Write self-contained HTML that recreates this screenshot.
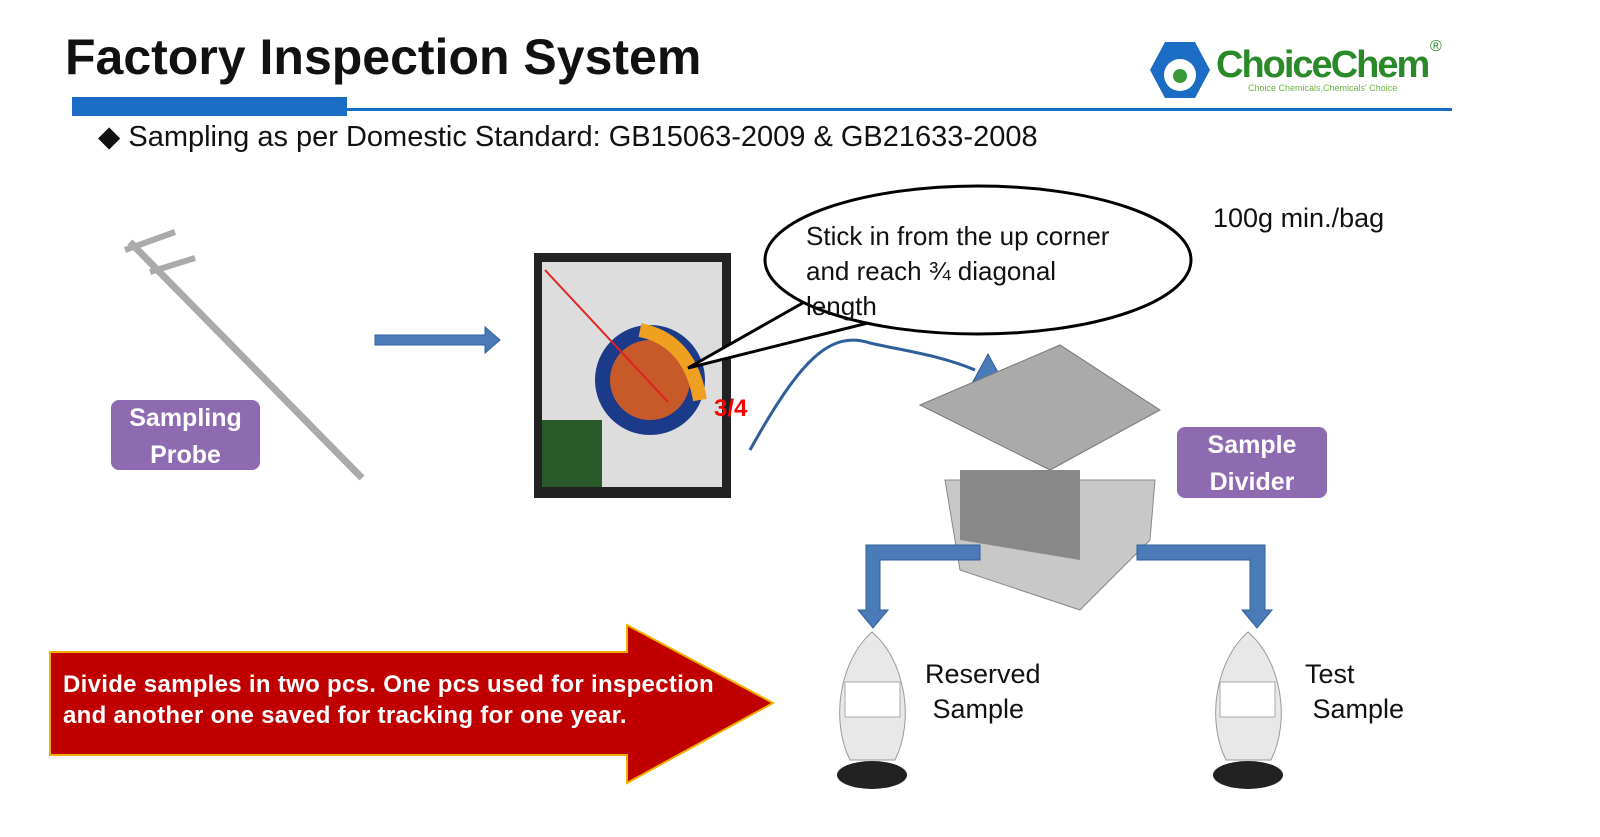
<!DOCTYPE html>
<html><head><style>
body{margin:0;width:1600px;height:837px;background:#fff;position:relative;overflow:hidden;font-family:"Liberation Sans",sans-serif}
.a{position:absolute}
.box{position:absolute;background:#8e6ab0;color:#fff;font-weight:bold;font-size:25px;text-align:center;border-radius:8px;line-height:37px}
</style></head><body>
<div class="a" style="left:65px;top:28px;font-size:50px;font-weight:bold;color:#111">Factory Inspection System</div>
<div class="a" style="left:72px;top:108px;width:1380px;height:3px;background:#1a6cc4"></div>
<div class="a" style="left:72px;top:97px;width:275px;height:19px;background:#1a6cc4"></div>
<div class="a" style="left:98px;top:119px;font-size:29px;color:#111">◆ Sampling as per Domestic Standard: GB15063-2009 &amp; GB21633-2008</div>
<div class="a" style="left:1216px;top:44px;font-size:38px;font-weight:bold;color:#2a8a2a;letter-spacing:-2px">ChoiceChem</div>
<div class="a" style="left:1248px;top:83px;font-size:9px;color:#6cb33f">Choice Chemicals,Chemicals' Choice</div>
<div class="a" style="left:1430px;top:38px;font-size:16px;color:#2a8a2a">®</div>
<svg class="a" style="left:0;top:0" width="1600" height="837">
<path d="M1165 42 L1195 42 L1210 70 L1195 98 L1165 98 L1150 70 Z" fill="#1a6cc4"/>
<circle cx="1180" cy="75" r="16" fill="#fff"/><circle cx="1180" cy="76" r="7" fill="#3a9a3a"/>
<line x1="130" y1="242" x2="362" y2="478" stroke="#aaa" stroke-width="7"/>
<line x1="125" y1="250" x2="175" y2="232" stroke="#aaa" stroke-width="6"/>
<line x1="150" y1="272" x2="195" y2="258" stroke="#aaa" stroke-width="6"/>
<polygon points="375,335 485,335 485,327 500,340 485,353 485,345 375,345" fill="#4a7ab8" stroke="#2f5f9a"/>
<rect x="534" y="253" width="197" height="245" fill="#222"/>
<rect x="542" y="262" width="180" height="225" fill="#ddd"/>
<circle cx="650" cy="380" r="55" fill="#1b3a8a"/><circle cx="650" cy="380" r="40" fill="#c85a2a"/>
<path d="M640 330 Q690 340 700 400" stroke="#f0a020" stroke-width="14" fill="none"/>
<rect x="542" y="420" width="60" height="67" fill="#2a5a2a"/>
<line x1="545" y1="270" x2="668" y2="402" stroke="#e02020" stroke-width="2"/>
<text x="714" y="416" font-size="24" font-weight="bold" fill="#f00" font-family="Liberation Sans">3/4</text>
<path d="M880 320 L688 368 L808 300" fill="#fff" stroke="#000" stroke-width="3"/>
<ellipse cx="978" cy="260" rx="213" ry="74" fill="#fff" stroke="#000" stroke-width="3"/>
<path d="M750 450 C800 360 830 330 870 343 C900 350 940 355 975 370" stroke="#2f5f9a" stroke-width="3" fill="none"/>
<polygon points="988,354 970,387 1006,387" fill="#4a7ab8" stroke="#2f5f9a"/>
<polygon points="920,405 1060,345 1160,410 1050,470" fill="#aaa" stroke="#777"/>
<polygon points="945,480 1155,480 1150,540 1080,610 960,570" fill="#c8c8c8" stroke="#888"/>
<polygon points="960,470 1080,470 1080,560 960,540" fill="#888"/>
<polygon points="880,545 980,545 980,560 880,560 880,610 888,610 873,628 858,610 866,610 866,545" fill="#4a7ab8" stroke="#2f5f9a"/>
<polygon points="1137,545 1265,545 1265,610 1272,610 1257,628 1242,610 1250,610 1250,560 1137,560" fill="#4a7ab8" stroke="#2f5f9a"/>
<polygon points="50,652 627,652 627,625 773,703 627,783 627,755 50,755" fill="#c00000" stroke="#f0b000" stroke-width="2"/>
<g fill="#e8e8e8" stroke="#999"><path d="M872 632 C840 660 830 720 850 760 L895 760 C915 720 905 660 872 632Z"/><path d="M1248 632 C1216 660 1206 720 1226 760 L1271 760 C1291 720 1281 660 1248 632Z"/></g>
<ellipse cx="872" cy="775" rx="35" ry="14" fill="#222"/><ellipse cx="1248" cy="775" rx="35" ry="14" fill="#222"/>
<rect x="845" y="682" width="55" height="35" fill="#fff" stroke="#aaa"/><rect x="1220" y="682" width="55" height="35" fill="#fff" stroke="#aaa"/>
</svg>
<div class="a" style="left:806px;top:219px;font-size:26px;line-height:35px;color:#111">Stick in from the up corner<br>and reach ¾ diagonal<br>length</div>
<div class="a" style="left:1213px;top:203px;font-size:27px;color:#111">100g min./bag</div>
<div class="box" style="left:111px;top:400px;width:149px;height:70px">Sampling<br>Probe</div>
<div class="box" style="left:1177px;top:427px;width:150px;height:71px">Sample<br>Divider</div>
<div class="a" style="left:63px;top:669px;font-size:24px;line-height:31px;font-weight:bold;color:#fff;letter-spacing:0.3px">Divide samples in two pcs. One pcs used for inspection<br>and another one saved for tracking for one year.</div>
<div class="a" style="left:925px;top:657px;font-size:27px;line-height:35px;color:#111">Reserved<br>&nbsp;Sample</div>
<div class="a" style="left:1305px;top:657px;font-size:27px;line-height:35px;color:#111">Test<br>&nbsp;Sample</div>
</body></html>
